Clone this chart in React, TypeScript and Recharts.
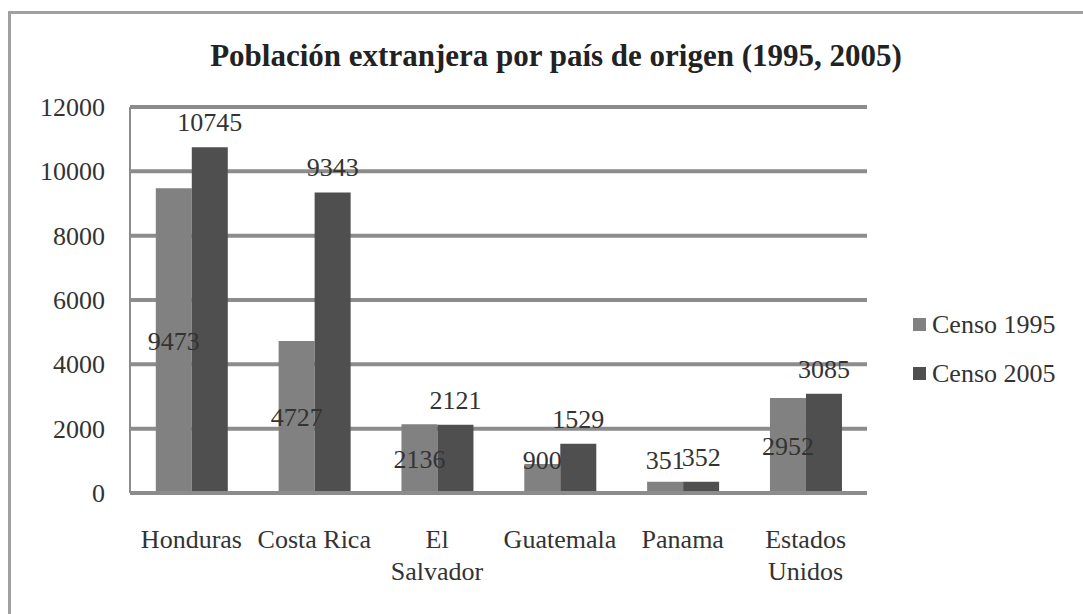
import React from "react";
import { BarChart, Bar, XAxis, YAxis, CartesianGrid, LabelList } from "recharts";

const countries = ["Honduras", "Costa Rica", "El Salvador", "Guatemala", "Panama", "Estados Unidos"];
const countryTickLines = [["Honduras"], ["Costa Rica"], ["El", "Salvador"], ["Guatemala"], ["Panama"], ["Estados", "Unidos"]];
const censo1995 = [9473, 4727, 2136, 900, 351, 2952];
const censo2005 = [10745, 9343, 2121, 1529, 352, 3085];
const yTicks = [0, 2000, 4000, 6000, 8000, 10000, 12000];
const seriesNames = ["Censo 1995", "Censo 2005"];
const seriesColors = ["#818181", "#4f4f50"];
const title = "Población extranjera por país de origen (1995, 2005)";

const data = countries.map((c, i) => ({ name: c, c1995: censo1995[i], c2005: censo2005[i] }));

const FONT = "Liberation Serif";
const TEXT = "#333333";
const GRID = "#8c8c8c";
const textStyle = { fontFamily: FONT, fontSize: 26 };

const CategoryTick = (props: any) => {
  const { x, y, payload } = props;
  const idx = countries.indexOf(payload.value);
  const lines = idx >= 0 ? countryTickLines[idx] : [String(payload.value)];
  return (
    <text x={x} y={y} textAnchor="middle" fill={TEXT} fontFamily={FONT} fontSize={26} style={textStyle}>
      {lines.map((l, i) => (
        <tspan key={i} x={x} dy={i === 0 ? 25 : 32}>
          {l}
        </tspan>
      ))}
    </text>
  );
};

const NumText = ({ x, y, anchor, value }: any) => (
  <text x={x} y={y} textAnchor={anchor} fill={TEXT} fontFamily={FONT} fontSize={26} style={textStyle}>
    <tspan x={x} dy={0}>{String(value)}</tspan>
  </text>
);

const ValueTick = (props: any) => {
  const { x, y, payload } = props;
  return <NumText x={x} y={y + 9} anchor="end" value={payload.value} />;
};

const InnerLabel = (props: any) => {
  const vb = props.viewBox || props;
  const { x, y, width, height } = vb;
  const bottom = y + height;
  const cy = bottom - Math.max(height / 2, 33);
  return <NumText x={x + width / 2} y={cy + 9} anchor="middle" value={props.value} />;
};

const TopLabel = (props: any) => {
  const vb = props.viewBox || props;
  const { x, y, width } = vb;
  return <NumText x={x + width / 2} y={y - 16} anchor="middle" value={props.value} />;
};

export default function App() {
  return (
    <div style={{ position: "absolute", left: 0, top: 0, width: 1083, height: 614, overflow: "hidden", background: "#fff" }}>
      <div style={{ position: "absolute", left: 8, top: 11, width: 1200, height: 800, border: "3px solid #a0a0a0", boxSizing: "border-box" }} />
      <div
        style={{
          position: "absolute",
          left: 556,
          top: 56,
          transform: "translate(-50%, -50%)",
          whiteSpace: "nowrap",
          fontFamily: FONT,
          fontWeight: "bold",
          fontSize: 31,
          color: "#222",
        }}
      >
        {title}
      </div>
      <div style={{ position: "absolute", left: 913, top: 300, fontFamily: FONT, fontSize: 26, color: TEXT }}>
        {seriesNames.map((n, i) => (
          <div key={n} style={{ display: "flex", alignItems: "center", height: 49, whiteSpace: "nowrap" }}>
            <span style={{ display: "inline-block", width: 13, height: 13, background: seriesColors[i], marginRight: 6 }} />
            <span>{n}</span>
          </div>
        ))}
      </div>
      <div style={{ position: "absolute", left: 0, top: 0, fontFamily: FONT }}>
        <BarChart
          width={1083}
          height={614}
          data={data}
          margin={{ top: 107, right: 216, bottom: 61, left: 10 }}
          barCategoryGap="21%"
          barGap={0}
          style={{ fontFamily: FONT }}
        >
          <CartesianGrid vertical={false} stroke={GRID} strokeWidth={4} />
          <XAxis
            dataKey="name"
            height={60}
            interval={0}
            tickLine={false}
            tickMargin={24}
            axisLine={{ stroke: GRID, strokeWidth: 4 }}
            tick={<CategoryTick />}
          />
          <YAxis
            width={120}
            domain={[0, 12000]}
            ticks={yTicks}
            interval={0}
            tickLine={false}
            tickMargin={19}
            axisLine={{ stroke: GRID, strokeWidth: 2 }}
            tick={<ValueTick />}
          />
          <Bar dataKey="c1995" name={seriesNames[0]} fill={seriesColors[0]} isAnimationActive={false}>
            <LabelList dataKey="c1995" content={<InnerLabel />} />
          </Bar>
          <Bar dataKey="c2005" name={seriesNames[1]} fill={seriesColors[1]} isAnimationActive={false}>
            <LabelList dataKey="c2005" content={<TopLabel />} />
          </Bar>
        </BarChart>
      </div>
    </div>
  );
}
